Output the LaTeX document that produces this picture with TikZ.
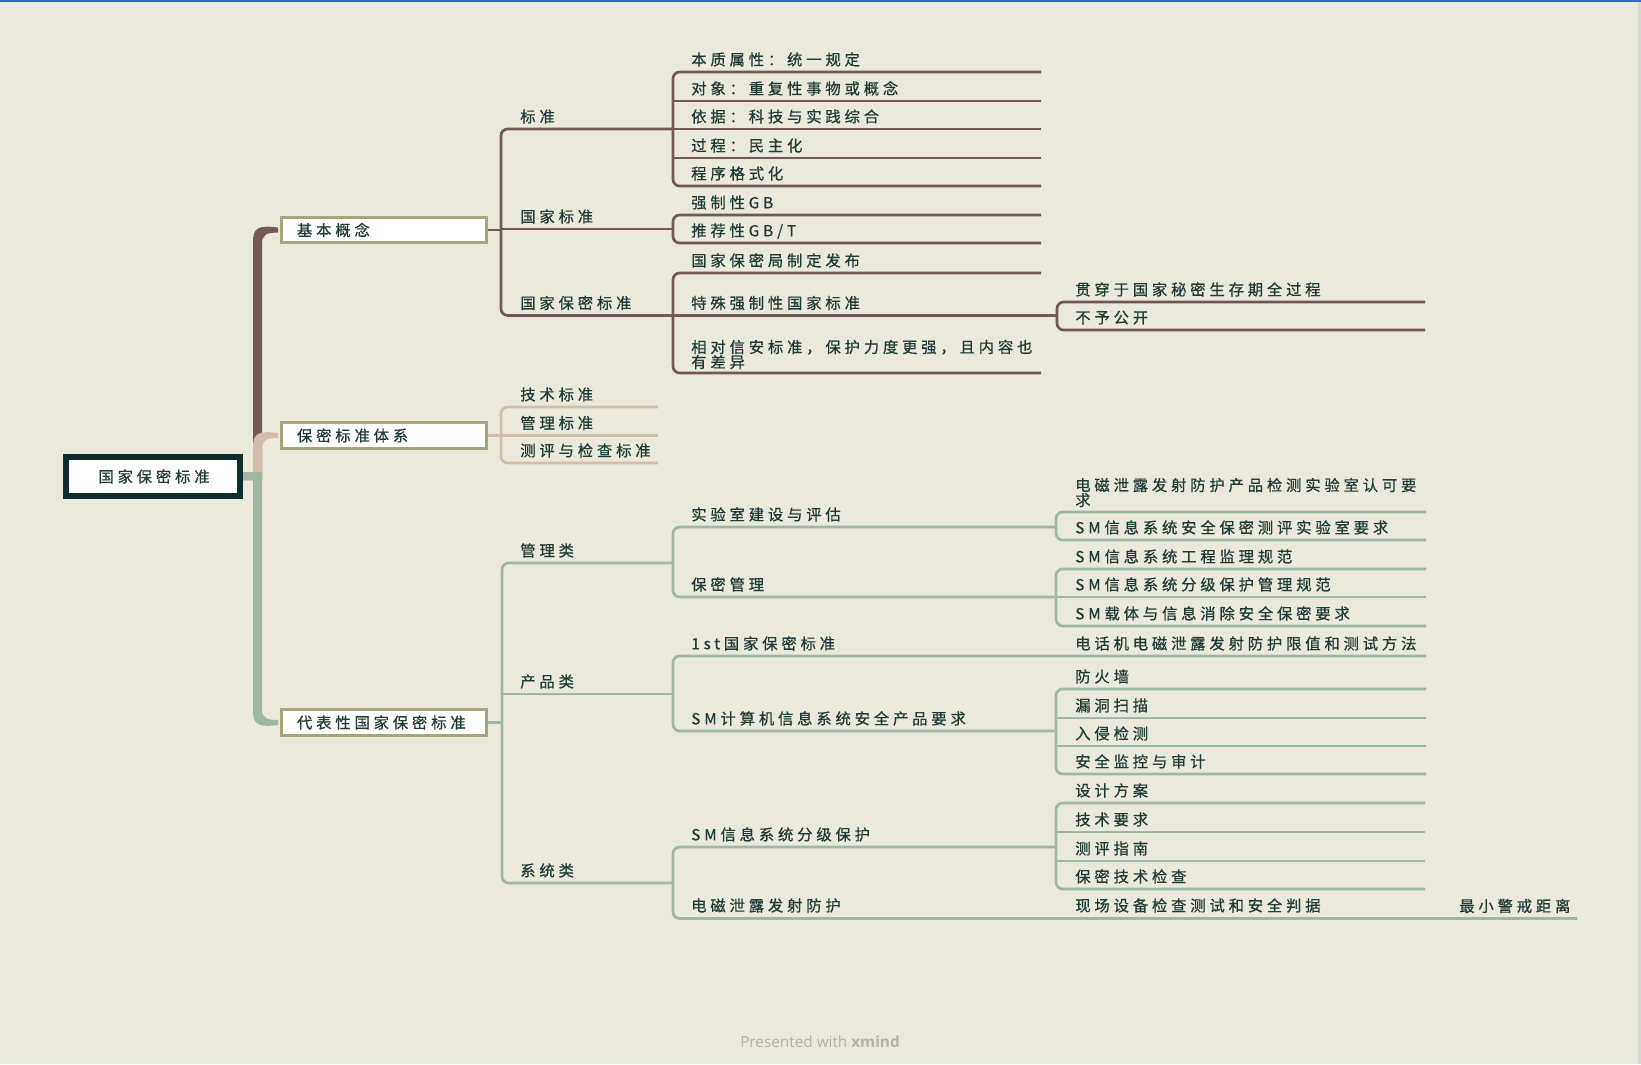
\documentclass[tikz,border=0pt]{standalone}
\usepackage{fontspec}
\newfontfamily\cjk[LetterSpace=25,FakeBold=0.6]{Noto Sans CJK SC}
\newfontfamily\presfont{Open Sans}
\definecolor{bgc}{HTML}{EBE9DC}
\definecolor{brownc}{HTML}{735858}
\definecolor{beigec}{HTML}{D3BDA8}
\definecolor{greenc}{HTML}{9DB7A5}
\definecolor{boxc}{HTML}{A8A47B}
\definecolor{rootc}{HTML}{0F2D2D}
\definecolor{txtc}{HTML}{1F3B37}
\definecolor{presc}{HTML}{B4B3AA}
\definecolor{topc}{HTML}{3466C8}
\definecolor{edgec}{HTML}{D9D9D3}
\newcommand\tfont{\cjk\fontsize{11.5pt}{11.25pt}\selectfont}
\begin{document}
\begin{tikzpicture}[x=0.75pt,y=-0.75pt,
  tx/.style={anchor=west, inner sep=0pt, font=\tfont, text=txtc, text height=0.84em, text depth=0.12em},
  tx2/.style={anchor=west, inner sep=0pt, font=\tfont, text=txtc, align=left},
  topicbox/.style={draw=boxc, line width=2.25pt, fill=white, minimum height=19pt, text width=130pt, inner xsep=12pt, inner ysep=0pt, align=left, anchor=west, font=\tfont, text=txtc},
  rootbox/.style={draw=rootc, line width=4.3pt, fill=white, minimum width=130.5pt, minimum height=29.25pt, inner sep=0pt, font=\tfont, text=txtc},
  br/.style={draw=brownc, line width=2pt, rounded corners=5pt},
  bg/.style={draw=beigec, line width=2pt, rounded corners=5pt},
  gr/.style={draw=greenc, line width=2pt, rounded corners=5pt}
]
\useasboundingbox (0,0) rectangle (1641,1064);
\fill[bgc] (0,0) rectangle (1641,1064);
\fill[topc] (0,0) rectangle (1641,1.5);
\fill[edgec] (1638,1.5) rectangle (1641,1064);

% ---------- main branches ----------
\fill[brownc] (243,472) -- (253,472) -- (253,242) .. controls (253,228) and (258,225) .. (278,227.5)
  -- (278,232.5) .. controls (266,232.5) and (262,235) .. (262,244) -- (262,480) -- (243,480) -- cycle;
\fill[beigec] (243,472) -- (253,472) -- (253,447.5) .. controls (253,433.5) and (258,430.5) .. (278,433)
  -- (278,438) .. controls (266,438) and (262,440.5) .. (262,449.5) -- (262,480) -- (243,480) -- cycle;
\fill[greenc] (243,472) -- (262,472) -- (262,708.5) .. controls (262,717.5) and (266,720) .. (278,720)
  -- (278,725) .. controls (258,727.5) and (253,724.5) .. (253,710.5) -- (253,480) -- (243,480) -- cycle;

% ---------- root and level-1 topics ----------
\node[rootbox] (root) at (152.7,476.5) {\hspace{2pt}国家保密标准};
\node[topicbox] (jbgn) at (279.5,230) {基本概念};
\node[topicbox] (bmbztx) at (279.5,435.5) {保密标准体系};
\node[topicbox] (dbx) at (279.5,722.5) {代表性国家保密标准};

% ---------- 基本概念 ----------
\coordinate (v1) at (501,230);
\draw[br] (jbgn.east) -- (v1);
\draw[br] (673,129) -- (501,129) -- (501,315.5) -- (673,315.5);
\draw[br] (501,229) -- (673,229);
\node[tx] (bz) at (520,117.5) {标准};
\node[tx] (gjbz) at (520,217.5) {国家标准};
\node[tx] (gjbmbz) at (520,304) {国家保密标准};

% 标准
\draw[br] (1041,72) -- (673,72) -- (673,186) -- (1041,186);
\draw[br] (673,101) -- (1041,101);
\draw[br] (673,129) -- (1041,129);
\draw[br] (673,158) -- (1041,158);
\node[tx] (a1) at (691,60.5) {本质属性：统一规定};
\node[tx] (a2) at (691,89.5) {对象：重复性事物或概念};
\node[tx] (a3) at (691,117.5) {依据：科技与实践综合};
\node[tx] (a4) at (691,146.5) {过程：民主化};
\node[tx] (a5) at (691,174.5) {程序格式化};

% 国家标准
\draw[br] (1041,215) -- (673,215) -- (673,243) -- (1041,243);
\node[tx] (b1) at (691,203.5) {强制性GB};
\node[tx] (b2) at (691,231.5) {推荐性GB/T};

% 国家保密标准
\draw[br] (1041,273) -- (673,273) -- (673,373) -- (1041,373);
\draw[br] (673,315.5) -- (1057,315.5);
\node[tx] (c1) at (691,261.5) {国家保密局制定发布};
\node[tx] (c2) at (691,304) {特殊强制性国家标准};
\node[tx2] (c3) at (691,354.5) {相对信安标准，保护力度更强，且内容也\\有差异};

% 特殊强制性国家标准
\draw[br] (1425,302) -- (1057,302) -- (1057,330) -- (1425,330);
\node[tx] (d1) at (1075,290.5) {贯穿于国家秘密生存期全过程};
\node[tx] (d2) at (1075,318.5) {不予公开};

% ---------- 保密标准体系 ----------
\draw[bg] (bmbztx.east) -- (501,435.5);
\draw[bg] (658,407) -- (501,407) -- (501,463) -- (658,463);
\draw[bg] (501,435.5) -- (658,435.5);
\node[tx] (e1) at (520,395.5) {技术标准};
\node[tx] (e2) at (520,424) {管理标准};
\node[tx] (e3) at (520,451.5) {测评与检查标准};

% ---------- 代表性国家保密标准 ----------
\draw[gr] (dbx.east) -- (502,722.5);
\draw[gr] (673,563) -- (502,563) -- (502,883) -- (673,883);
\draw[gr] (502,694) -- (673,694);
\node[tx] (f1) at (520,551.5) {管理类};
\node[tx] (f2) at (520,682.5) {产品类};
\node[tx] (f3) at (520,871.5) {系统类};

% 管理类
\draw[gr] (1056,527) -- (673,527) -- (673,597) -- (1056,597);
\node[tx] (g1) at (691,515.5) {实验室建设与评估};
\node[tx] (g2) at (691,585.5) {保密管理};
\draw[gr] (1426,512) -- (1056,512) -- (1056,540) -- (1426,540);
\node[tx2] (h1) at (1075,492.5) {电磁泄露发射防护产品检测实验室认可要\\求};
\node[tx] (h2) at (1075,528.5) {SM信息系统安全保密测评实验室要求};
\draw[gr] (1426,569) -- (1056,569) -- (1056,626) -- (1426,626);
\draw[gr] (1056,597) -- (1426,597);
\node[tx] (i1) at (1075,557.5) {SM信息系统工程监理规范};
\node[tx] (i2) at (1075,585.5) {SM信息系统分级保护管理规范};
\node[tx] (i3) at (1075,614.5) {SM载体与信息消除安全保密要求};

% 产品类
\draw[gr] (1426,656) -- (673,656) -- (673,731) -- (1056,731);
\node[tx] (j1) at (691,644.5) {1st国家保密标准};
\node[tx] (j2) at (691,719.5) {SM计算机信息系统安全产品要求};
\node[tx] (k0) at (1075,644.5) {电话机电磁泄露发射防护限值和测试方法};
\draw[gr] (1426,689) -- (1056,689) -- (1056,774) -- (1426,774);
\draw[gr] (1056,718) -- (1426,718);
\draw[gr] (1056,746) -- (1426,746);
\node[tx] (k1) at (1075,677.5) {防火墙};
\node[tx] (k2) at (1075,706.5) {漏洞扫描};
\node[tx] (k3) at (1075,734.5) {入侵检测};
\node[tx] (k4) at (1075,762.5) {安全监控与审计};

% 系统类
\draw[gr] (1056,847) -- (673,847) -- (673,918.5) -- (1577,918.5);
\node[tx] (l1) at (691,835.5) {SM信息系统分级保护};
\node[tx] (l2) at (691,906.5) {电磁泄露发射防护};
\draw[gr] (1425,803) -- (1056,803) -- (1056,889) -- (1425,889);
\draw[gr] (1056,832) -- (1425,832);
\draw[gr] (1056,861) -- (1425,861);
\node[tx] (m1) at (1075,791.5) {设计方案};
\node[tx] (m2) at (1075,820.5) {技术要求};
\node[tx] (m3) at (1075,849.5) {测评指南};
\node[tx] (m4) at (1075,877.5) {保密技术检查};
\node[tx] (n1) at (1075,906.5) {现场设备检查测试和安全判据};
\node[tx] (n2) at (1459,907) {最小警戒距离};

% ---------- footer ----------
\node[inner sep=0pt, font=\presfont\fontsize{11.5pt}{13pt}\selectfont, text=presc] (pres) at (820,1042) {Presented with \textbf{xmind}};
\end{tikzpicture}
\end{document}
